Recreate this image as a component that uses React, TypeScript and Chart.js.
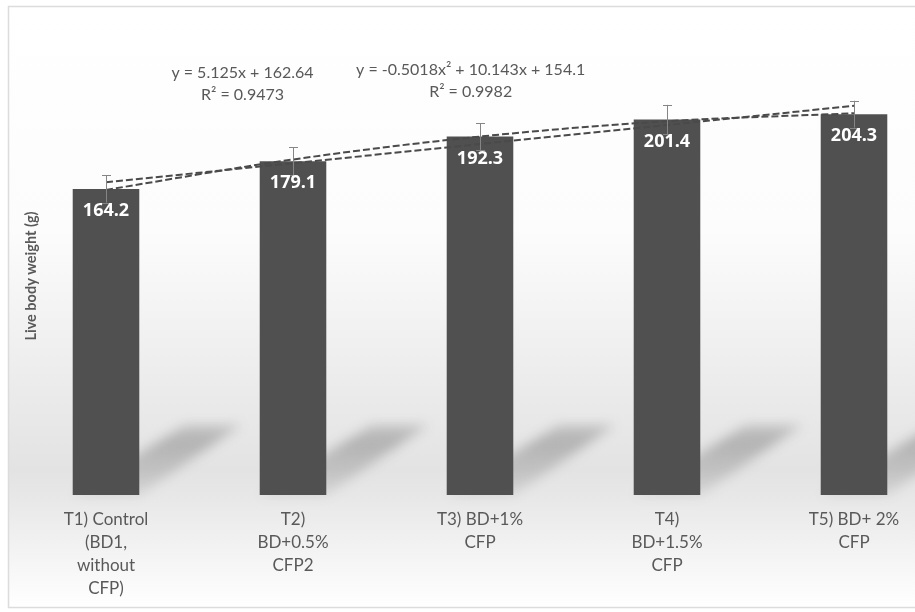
import React, { useEffect, useRef } from "react";
import { Chart, registerables } from "chart.js";

Chart.register(...registerables);

const categories: string[][] = [
  ["T1) Control", "(BD1,", "without", "CFP)"],
  ["T2)", "BD+0.5%", "CFP2"],
  ["T3) BD+1%", "CFP"],
  ["T4)", "BD+1.5%", "CFP"],
  ["T5) BD+ 2%", "CFP"],
];
const weights = [164.2, 179.1, 192.3, 201.4, 204.3];
const errors = [7.3, 7.5, 7.2, 7.9, 7.2];
const linearTrend = [167.8, 178.0, 188.3, 198.5, 208.8];
const polyTrend = [163.7, 180.0, 192.3, 200.5, 204.8];
const yAxisTitle = "Live body weight (g)";
const linearEq = ["y = 5.125x + 162.64", "R\u00B2 = 0.9473"];
const polyEq = ["y = -0.5018x\u00B2 + 10.143x + 154.1", "R\u00B2 = 0.9982"];

const TEXT = "#595959";
const BAR = "#505050";

const backgroundPlugin = {
  id: "bgPlugin",
  beforeDraw(chart: any) {
    const { ctx, width, height } = chart;
    ctx.save();
    ctx.fillStyle = "#ffffff";
    ctx.fillRect(0, 0, width, height);
    const top = 6;
    const bottom = 607;
    const h = bottom - top;
    const g = ctx.createLinearGradient(0, top, 0, bottom);
    g.addColorStop(0, "#ffffff");
    g.addColorStop((230 - top) / h, "#fcfcfc");
    g.addColorStop((380 - top) / h, "#ececec");
    g.addColorStop((470 - top) / h, "#e3e3e3");
    g.addColorStop((500 - top) / h, "#e8e8e8");
    g.addColorStop(1, "#ffffff");
    ctx.fillStyle = g;
    ctx.fillRect(8, top, width, h);
    ctx.strokeStyle = "#dcdcdc";
    ctx.lineWidth = 1.5;
    ctx.strokeRect(8.5, top + 0.5, width, h);
    ctx.restore();
  },
};

const shadowPlugin = {
  id: "shadowPlugin",
  beforeDatasetsDraw(chart: any) {
    const { ctx } = chart;
    const idx = chart.data.datasets.findIndex((d: any) => d.type === "bar");
    const meta = chart.getDatasetMeta(idx);
    meta.data.forEach((bar: any) => {
      const { x, base, width } = bar.getProps(["x", "base", "width"], true);
      const l = x - width / 2;
      const r = x + width / 2;
      const rise = 70;
      ctx.save();
      ctx.filter = "blur(6px)";
      const g = ctx.createLinearGradient(0, base, 0, base - rise);
      g.addColorStop(0, "rgba(60,60,60,0.10)");
      g.addColorStop(0.75, "rgba(60,60,60,0.30)");
      g.addColorStop(1, "rgba(60,60,60,0.20)");
      ctx.fillStyle = g;
      ctx.beginPath();
      ctx.moveTo(l, base);
      ctx.lineTo(r, base);
      ctx.lineTo(r + 102, base - rise);
      ctx.lineTo(l + 112, base - rise);
      ctx.closePath();
      ctx.fill();
      ctx.restore();
    });
  },
};

const overlayPlugin = {
  id: "overlayPlugin",
  afterDatasetsDraw(chart: any) {
    const { ctx } = chart;
    const yScale = chart.scales.y;
    const idx = chart.data.datasets.findIndex((d: any) => d.type === "bar");
    const meta = chart.getDatasetMeta(idx);
    meta.data.forEach((bar: any, i: number) => {
      const x = bar.x;
      const top = yScale.getPixelForValue(weights[i] + errors[i]);
      const bot = yScale.getPixelForValue(weights[i] - errors[i]);
      ctx.save();
      ctx.strokeStyle = "#858585";
      ctx.lineWidth = 1;
      ctx.beginPath();
      ctx.moveTo(x + 0.5, top);
      ctx.lineTo(x + 0.5, bot);
      ctx.moveTo(x - 4, Math.round(top) + 0.5);
      ctx.lineTo(x + 5, Math.round(top) + 0.5);
      ctx.moveTo(x - 4, Math.round(bot) + 0.5);
      ctx.lineTo(x + 5, Math.round(bot) + 0.5);
      ctx.stroke();
      ctx.restore();
    });
    meta.data.forEach((bar: any, i: number) => {
      ctx.save();
      ctx.fillStyle = "#ffffff";
      ctx.font = "bold 18px 'Open Sans'";
      ctx.textAlign = "center";
      ctx.textBaseline = "middle";
      ctx.fillText(weights[i].toFixed(1), bar.x, bar.y + 22);
      ctx.restore();
    });
  },
  afterDraw(chart: any) {
    const { ctx, chartArea } = chart;
    const xs = chart.scales.x;
    const catW = xs.getPixelForValue(1) - xs.getPixelForValue(0);
    ctx.save();
    ctx.fillStyle = TEXT;
    ctx.textAlign = "center";
    ctx.textBaseline = "middle";
    ctx.font = "bold 14.5px Lato";
    ctx.translate(31, (chartArea.top + chartArea.bottom) / 2 + 14);
    ctx.rotate(-Math.PI / 2);
    ctx.fillText(yAxisTitle, 0, 0);
    ctx.restore();

    ctx.save();
    ctx.fillStyle = TEXT;
    ctx.textAlign = "center";
    ctx.textBaseline = "middle";
    ctx.font = "16px Lato";
    const x1 = xs.getPixelForValue(0) + catW * 0.73;
    const x2 = xs.getPixelForValue(1) + catW * 0.95;
    ctx.fillText(linearEq[0], x1, chartArea.top + 44);
    ctx.fillText(linearEq[1], x1, chartArea.top + 66);
    ctx.fillText(polyEq[0], x2, chartArea.top + 41);
    ctx.fillText(polyEq[1], x2, chartArea.top + 63);
    ctx.restore();
  },
};

export default function App() {
  const ref = useRef<HTMLCanvasElement | null>(null);

  useEffect(() => {
    if (!ref.current) return;
    const chart = new Chart(ref.current, {
      type: "bar",
      data: {
        labels: categories,
        datasets: [
          {
            type: "line",
            label: "Linear trend",
            data: linearTrend,
            borderColor: "#4a4a4a",
            borderWidth: 2,
            borderDash: [7, 3],
            pointRadius: 0,
            fill: false,
            order: 1,
          } as any,
          {
            type: "line",
            label: "Polynomial trend",
            data: polyTrend,
            borderColor: "#4a4a4a",
            borderWidth: 2,
            borderDash: [7, 3],
            pointRadius: 0,
            fill: false,
            cubicInterpolationMode: "monotone",
            order: 1,
          } as any,
          {
            type: "bar",
            label: "Live body weight",
            data: weights,
            backgroundColor: BAR,
            borderWidth: 0,
            barPercentage: 0.356,
            categoryPercentage: 1,
            order: 3,
          } as any,
        ],
      },
      options: {
        animation: false,
        responsive: true,
        maintainAspectRatio: false,
        layout: { padding: { left: 12.5, right: 12.5, top: 29, bottom: 0 } },
        plugins: {
          legend: { display: false },
          tooltip: { enabled: false },
        },
        scales: {
          x: {
            grid: { display: false, drawTicks: false },
            border: { display: false },
            ticks: {
              color: TEXT,
              padding: 13,
              maxRotation: 0,
              autoSkip: false,
              font: { family: "Lato", size: 17, lineHeight: 23 / 17 },
            },
            afterFit: (scale: any) => {
              scale.height = 117;
            },
          },
          y: {
            display: false,
            min: 0,
            max: 250,
          },
        },
      },
      plugins: [backgroundPlugin, shadowPlugin, overlayPlugin],
    });
    return () => chart.destroy();
  }, []);

  return (
    <div
      style={{
        position: "fixed",
        left: 0,
        top: 0,
        width: 915,
        height: 612,
        overflow: "hidden",
        background: "#fff",
      }}
    >
      <div style={{ position: "relative", width: 960, height: 612 }}>
        <canvas ref={ref} />
      </div>
    </div>
  );
}
